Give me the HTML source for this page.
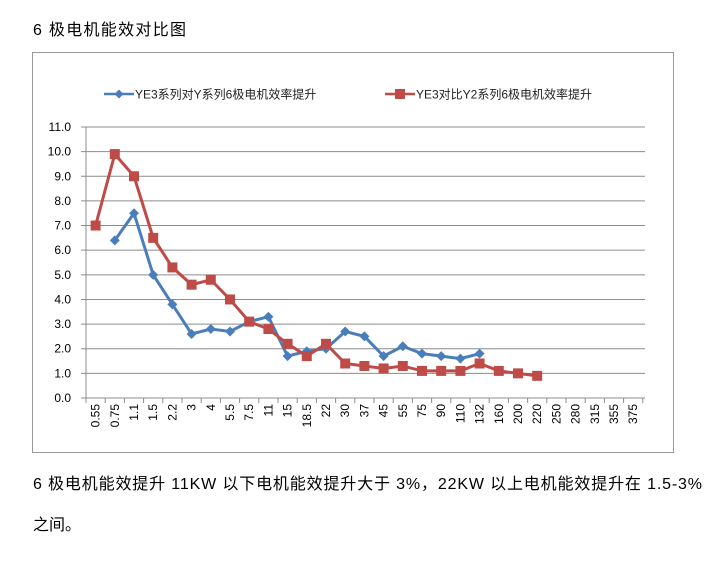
<!DOCTYPE html>
<html><head><meta charset="utf-8"><style>
body{margin:0;background:#fff;width:719px;height:574px;overflow:hidden;font-family:"Liberation Sans","Noto Sans CJK SC",sans-serif}
</style></head><body>
<svg id="s" width="719" height="574" xmlns="http://www.w3.org/2000/svg" font-family="Liberation Sans, Noto Sans CJK SC, sans-serif">
<text x="33" y="35" font-size="16" fill="#000" textLength="153" lengthAdjust="spacing">6 极电机能效对比图</text>
<rect x="32.5" y="52.5" width="641" height="400" fill="#fff" stroke="#999"/>
<g font-size="12" fill="#222">
<line x1="104" y1="94" x2="134" y2="94" stroke="#4a7ebb" stroke-width="2.5"/>
<path d="M119 89.5 L123.5 94 L119 98.5 L114.5 94Z" fill="#4a7ebb"/>
<text x="135" y="98.5">YE3系列对Y系列6极电机效率提升</text>
<line x1="385" y1="94" x2="415" y2="94" stroke="#be4b48" stroke-width="2.5"/>
<rect x="395" y="89" width="10" height="10" fill="#be4b48"/>
<text x="416" y="98.5">YE3对比Y2系列6极电机效率提升</text>
</g>
<g id="g"></g>
<text x="33" y="489" font-size="16" textLength="669" lengthAdjust="spacing">6 极电机能效提升 11KW 以下电机能效提升大于 3%，22KW 以上电机能效提升在 1.5-3%</text>
<text x="33" y="530" font-size="16">之间。</text>
</svg>
<script>
var g=document.getElementById('g'),h='';
var x0=86,w=19.2,yt=127,yb=398,py=(yb-yt)/11;
function Y(v){return yb-v*py}
for(var i=0;i<=11;i++){var y=Y(i);h+='<line x1="'+(x0-5)+'" y1="'+y+'" x2="645" y2="'+y+'" stroke="#8c8c8c" stroke-width="1"/>';
h+='<text x="71" y="'+(y+4)+'" font-size="12" text-anchor="end">'+i.toFixed(1)+'</text>';}
h+='<line x1="'+x0+'" y1="'+yt+'" x2="'+x0+'" y2="'+yb+'" stroke="#8c8c8c"/>';
var cats=['0.55','0.75','1.1','1.5','2.2','3','4','5.5','7.5','11','15','18.5','22','30','37','45','55','75','90','110','132','160','200','220','250','280','315','355','375'];
for(var i=0;i<=29;i++){var x=x0+i*w;h+='<line x1="'+x+'" y1="'+yb+'" x2="'+x+'" y2="'+(yb+5)+'" stroke="#8c8c8c"/>';}
cats.forEach(function(c,i){var x=x0+(i+0.5)*w+4;h+='<text transform="translate('+x+',404) rotate(-90)" font-size="12" text-anchor="end">'+c+'</text>';});
var b=[6.4,7.5,5.0,3.8,2.6,2.8,2.7,3.1,3.3,1.7,1.9,2.0,2.7,2.5,1.7,2.1,1.8,1.7,1.6,1.8];
var r=[7.0,9.9,9.0,6.5,5.3,4.6,4.8,4.0,3.1,2.8,2.2,1.7,2.2,1.4,1.3,1.2,1.3,1.1,1.1,1.1,1.4,1.1,1.0,0.9];
function X(i){return x0+(i+0.5)*w}
var p=b.map(function(v,i){return X(i+1)+','+Y(v)}).join(' ');
h+='<polyline points="'+p+'" fill="none" stroke="#4a7ebb" stroke-width="3"/>';
b.forEach(function(v,i){var x=X(i+1),y=Y(v);h+='<path d="M'+x+' '+(y-5)+'L'+(x+5)+' '+y+'L'+x+' '+(y+5)+'L'+(x-5)+' '+y+'Z" fill="#4a7ebb"/>';});
p=r.map(function(v,i){return X(i)+','+Y(v)}).join(' ');
h+='<polyline points="'+p+'" fill="none" stroke="#be4b48" stroke-width="3"/>';
r.forEach(function(v,i){h+='<rect x="'+(X(i)-5)+'" y="'+(Y(v)-5)+'" width="10" height="10" fill="#be4b48"/>';});
g.innerHTML=h;
</script>
</body></html>
